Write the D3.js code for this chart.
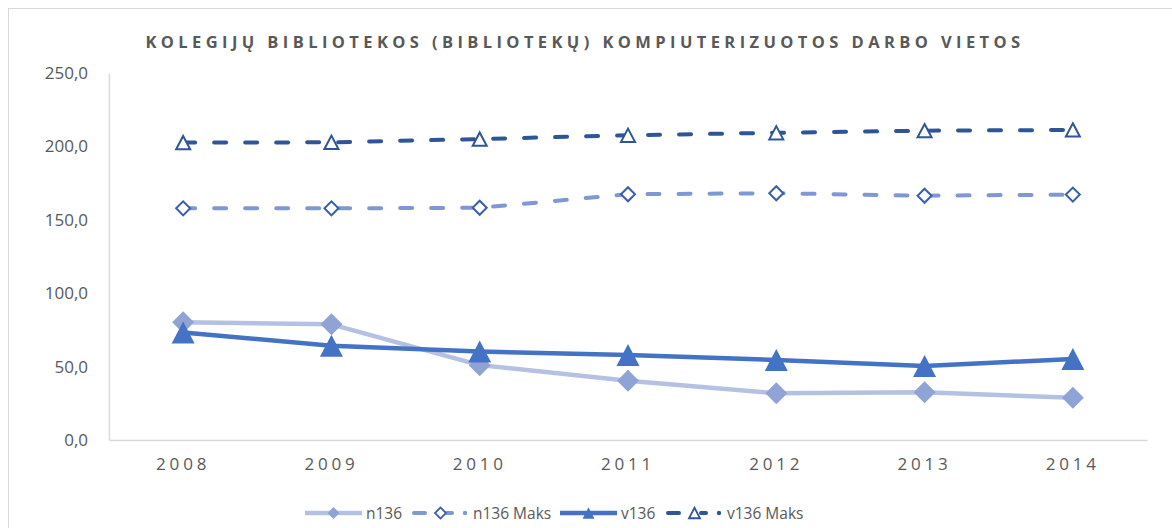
<!DOCTYPE html>
<html>
<head>
<meta charset="utf-8">
<script src="https://cdn.jsdelivr.net/npm/d3@7"></script>
<style>
  body { margin: 0; background: #fff; }
  svg { display: block; font-family: "Open Sans", "Liberation Sans", sans-serif; }
</style>
</head>
<body>
<svg id="chart" width="1172" height="528"></svg>
<script>
const years = ["2008", "2009", "2010", "2011", "2012", "2013", "2014"];
const yTicks = [0, 50, 100, 150, 200, 250];

const n136 = [80.2, 78.8, 51.0, 40.4, 31.8, 32.5, 28.8];
const n136Maks = [157.8, 157.8, 158.2, 167.4, 168.1, 166.4, 167.2];
const v136 = [73.2, 64.2, 60.3, 57.9, 54.5, 50.4, 55.2];
const v136Maks = [202.6, 202.8, 205.0, 207.6, 209.3, 210.7, 211.2];

const title = "KOLEGIJŲ BIBLIOTEKOS (BIBLIOTEKŲ) KOMPIUTERIZUOTOS DARBO VIETOS";

// series look
const series = [
  { name: "n136", values: n136, stroke: "#b4c1e3", width: 4.5, dash: null, marker: "diamond", size: 22, fill: "#8fa3d5", mstroke: "none" },
  { name: "n136 Maks", values: n136Maks, stroke: "#7f97d3", width: 4, dash: "12,19", marker: "diamond", size: 14, fill: "#fff", mstroke: "#3a5eae" },
  { name: "v136", values: v136, stroke: "#4472c4", width: 4.5, dash: null, marker: "triangle", size: 23, fill: "#4472c4", mstroke: "none" },
  { name: "v136 Maks", values: v136Maks, stroke: "#2f5597", width: 4, dash: "12,19", marker: "triangle", size: 14, fill: "#fff", mstroke: "#2f5597" }
];

const svg = d3.select("#chart");
const textColor = "#595959";

// outer frame (only top and left visible)
svg.append("line").attr("x1", 8).attr("x2", 1172).attr("y1", 8.5).attr("y2", 8.5)
  .attr("stroke", "#d9d9d9").attr("stroke-width", 1);
svg.append("line").attr("x1", 8.5).attr("x2", 8.5).attr("y1", 8).attr("y2", 528)
  .attr("stroke", "#d9d9d9").attr("stroke-width", 1);

const plot = { left: 109, right: 1147, top: 73, bottom: 440 };

const x = d3.scaleBand().domain(years).range([plot.left, plot.right]);
const y = d3.scaleLinear().domain([0, 250]).range([plot.bottom, plot.top]);
const cx = d => x(d) + x.bandwidth() / 2;

// title
svg.append("text")
  .attr("x", 585).attr("y", 48)
  .attr("text-anchor", "middle")
  .attr("fill", textColor)
  .attr("font-size", 16.5)
  .attr("font-weight", "bold")
  .attr("letter-spacing", 4.4)
  .text(title);

// y axis
const yAxis = svg.append("g")
  .attr("transform", `translate(${plot.left},0)`)
  .call(d3.axisLeft(y).tickValues(yTicks).tickSize(0).tickPadding(21)
    .tickFormat(d => d3.format(".1f")(d).replace(".", ",")));
yAxis.select(".domain").attr("stroke", "#d9d9d9").attr("stroke-width", 1.5);
yAxis.selectAll("text").attr("fill", textColor).attr("font-size", 17)
  .attr("font-family", "Open Sans, sans-serif");

// x axis
const xAxis = svg.append("g")
  .attr("transform", `translate(0,${plot.bottom})`)
  .call(d3.axisBottom(x).tickSize(0).tickPadding(18));
xAxis.select(".domain").attr("stroke", "#d9d9d9").attr("stroke-width", 1.5);
xAxis.selectAll("text").attr("fill", textColor).attr("font-size", 17)
  .attr("letter-spacing", 3.8).attr("font-family", "Open Sans, sans-serif");

const symbolPath = (s, size) => {
  if (s.marker === "diamond") {
    const a = size / Math.SQRT2;
    return d3.symbol(d3.symbolSquare, a * a)();
  }
  // triangle with given width
  const h = size * 0.95;
  return `M0,${-h / 2}L${size / 2},${h / 2}L${-size / 2},${h / 2}Z`;
};

const line = d3.line().x((d, i) => cx(years[i])).y(d => y(d));

// draw order: dashed first, then solid
const order = [series[3], series[1], series[0], series[2]];
order.forEach(s => {
  svg.append("path")
    .datum(s.values)
    .attr("d", line)
    .attr("fill", "none")
    .attr("stroke", s.stroke)
    .attr("stroke-width", s.width)
    .attr("stroke-linecap", s.dash ? "round" : "butt")
    .attr("stroke-linejoin", "round")
    .attr("stroke-dasharray", s.dash);
});
order.forEach(s => {
  svg.append("g").selectAll("path")
    .data(s.values)
    .join("path")
    .attr("transform", (d, i) => `translate(${cx(years[i])},${y(d)})` + (s.marker === "diamond" ? " rotate(45)" : ""))
    .attr("d", symbolPath(s, s.size))
    .attr("fill", s.fill)
    .attr("stroke", s.mstroke)
    .attr("stroke-width", s.mstroke === "none" ? 0 : 2);
});

// legend
const legendY = 513;
const legendItems = [
  { s: series[0], x0: 305 },
  { s: series[1], x0: 412 },
  { s: series[2], x0: 560 },
  { s: series[3], x0: 666 }
];
legendItems.forEach(({ s, x0 }) => {
  const g = svg.append("g");
  const len = 57;
  if (s.dash) {
    g.append("line").attr("x1", x0 + 2).attr("x2", x0 + 13).attr("y1", legendY).attr("y2", legendY)
      .attr("stroke", s.stroke).attr("stroke-width", s.width).attr("stroke-linecap", "round");
    g.append("line").attr("x1", x0 + 35).attr("x2", x0 + 40).attr("y1", legendY).attr("y2", legendY)
      .attr("stroke", s.stroke).attr("stroke-width", s.width).attr("stroke-linecap", "round");
    g.append("circle").attr("cx", x0 + 53).attr("cy", legendY).attr("r", 2.2).attr("fill", s.stroke);
  } else {
    g.append("line").attr("x1", x0).attr("x2", x0 + len).attr("y1", legendY).attr("y2", legendY)
      .attr("stroke", s.stroke).attr("stroke-width", s.width);
  }
  const msize = s.dash ? 11 : 12;
  g.append("path")
    .attr("transform", `translate(${x0 + 28.5},${legendY})` + (s.marker === "diamond" ? " rotate(45)" : ""))
    .attr("d", symbolPath(s, msize))
    .attr("fill", s.fill)
    .attr("stroke", s.mstroke)
    .attr("stroke-width", s.mstroke === "none" ? 0 : 1.8);
  g.append("text")
    .attr("x", x0 + len + 4).attr("y", legendY + 6)
    .attr("fill", textColor).attr("font-size", 15.5)
    .text(s.name);
});
</script>
</body>
</html>
